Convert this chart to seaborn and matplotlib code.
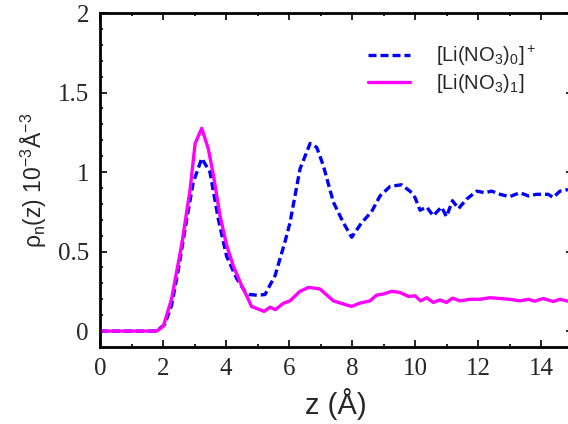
import numpy as np
import pandas as pd
import seaborn as sns
import matplotlib
matplotlib.use('Agg')
import matplotlib.pyplot as plt
from matplotlib.ticker import MultipleLocator, FormatStrFormatter

# data
z_free = [0.0, 0.5, 1.0, 1.5, 1.8, 2.06, 2.27, 2.49, 2.75, 2.96, 3.23, 3.49, 3.76, 4.02,
          4.34, 4.6, 4.76, 5.0, 5.24, 5.56, 5.87, 6.03, 6.35, 6.67, 6.88, 7.09, 7.41,
          7.73, 7.99, 8.3, 8.62, 8.89, 9.21, 9.57, 9.84, 10.0, 10.16, 10.37, 10.58,
          10.84, 11.0, 11.19, 11.38, 11.64, 11.96, 12.22, 12.43, 12.7, 13.0, 13.33,
          13.6, 13.86, 14.23, 14.39, 14.6, 14.86]
rho_free = [0.0, 0.0, 0.0, 0.0, 0.0, 0.044, 0.16, 0.39, 0.70, 0.935, 1.086, 1.0, 0.70, 0.47,
            0.33, 0.25, 0.23, 0.225, 0.23, 0.35, 0.56, 0.68, 1.02, 1.18, 1.155, 1.04, 0.81,
            0.68, 0.59, 0.68, 0.75, 0.85, 0.91, 0.92, 0.88, 0.84, 0.76, 0.78, 0.725,
            0.78, 0.72, 0.82, 0.77, 0.83, 0.88, 0.87, 0.88, 0.86, 0.845, 0.87,
            0.85, 0.86, 0.86, 0.84, 0.88, 0.89]

z_pair = [0.0, 0.5, 1.0, 1.5, 1.8, 2.01, 2.27, 2.59, 2.86, 3.02, 3.23, 3.44, 3.6, 3.81,
          4.02, 4.23, 4.5, 4.66, 4.81, 5.21, 5.4, 5.57, 5.82, 6.03, 6.35, 6.62, 6.98,
          7.41, 7.73, 7.99, 8.25, 8.57, 8.78, 8.99, 9.26, 9.52, 9.79, 10.0, 10.18,
          10.37, 10.58, 10.79, 11.0, 11.19, 11.43, 11.75, 12.06, 12.38, 12.7, 13.0,
          13.33, 13.6, 13.8, 14.07, 14.39, 14.6, 14.86]
rho_pair = [0.0, 0.0, 0.0, 0.0, 0.0, 0.03, 0.2, 0.54, 0.89, 1.18, 1.275, 1.145, 0.98, 0.725,
            0.54, 0.41, 0.285, 0.22, 0.155, 0.124, 0.15, 0.135, 0.175, 0.19, 0.25, 0.275, 0.265,
            0.19, 0.17, 0.155, 0.176, 0.19, 0.226, 0.233, 0.25, 0.243, 0.218, 0.222, 0.19,
            0.21, 0.18, 0.196, 0.18, 0.207, 0.19, 0.2, 0.2, 0.21, 0.205, 0.2,
            0.19, 0.2, 0.188, 0.205, 0.186, 0.2, 0.188]

label_free = '[Li(NO$_3$)$_0$]$^+$'
label_pair = '[Li(NO$_3$)$_1$]'

sns.set_style('ticks')
plt.rcParams['font.family'] = ['Liberation Sans', 'DejaVu Sans']
plt.rcParams['mathtext.default'] = 'regular'

fig = plt.figure(figsize=(5.68, 4.24), dpi=100)
# right spine sits just past the image edge, like the original
ax = fig.add_axes([100 / 568, 77 / 424, 472.5 / 568, 334 / 424])

sns.lineplot(x=z_free, y=rho_free, ax=ax, color='#0000ff', lw=2.4,
             linestyle=(0, (2.4, 1.2)), label=label_free)
sns.lineplot(x=z_pair, y=rho_pair, ax=ax, color='#ff00ff', lw=2.4, label=label_pair)

ax.set_xlim(0, 15)
ax.set_ylim(-0.1, 2.0)
ax.xaxis.set_major_locator(MultipleLocator(2))
ax.xaxis.set_minor_locator(MultipleLocator(1))
ax.yaxis.set_major_locator(MultipleLocator(0.5))
ax.yaxis.set_minor_locator(MultipleLocator(0.1))
ax.yaxis.set_major_formatter(FormatStrFormatter('%g'))
ax.tick_params(which='both', direction='in', top=True, right=True, width=1.2, color='black')
ax.tick_params(which='major', length=5, pad=8, labelsize=18)
ax.tick_params(which='minor', length=2.5)
for lbl in ax.get_xticklabels() + ax.get_yticklabels():
    lbl.set_fontfamily('Liberation Serif')
for s in ax.spines.values():
    s.set_linewidth(2)
    s.set_color('black')

ax.set_xlabel('z (Å)', fontsize=21, labelpad=6)
ax.set_ylabel('ρ$_n$(z) 10$^{-3}$Å$^{-3}$', fontsize=16.5, labelpad=6)

ax.legend(loc='upper left', bbox_to_anchor=(368 / 568, 1 - 44 / 424),
          bbox_transform=fig.transFigure, borderaxespad=0, borderpad=0,
          frameon=False, fontsize=14.5, handlelength=2.1, handletextpad=1.3,
          labelspacing=0.2)

fig.savefig('out.png', dpi=100)
